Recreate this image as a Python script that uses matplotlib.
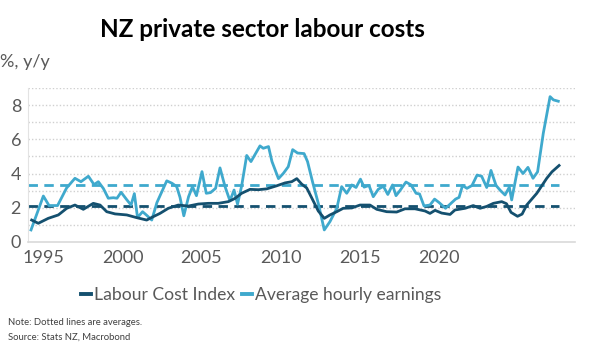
import matplotlib
matplotlib.use('Agg')
import matplotlib.pyplot as plt
from matplotlib.lines import Line2D

plt.rcParams['font.family'] = ['Lato', 'DejaVu Sans']

# Labour Cost Index, % y/y (dates as placed on the chart's year axis)
lci_dates = [1994.25, 1994.67, 1995.30, 1995.94, 1996.47, 1996.99, 1997.52, 1998.15, 1998.58, 1999.00,
             1999.53, 2000.27, 2000.90, 2001.53, 2001.95, 2002.37, 2002.90, 2003.53, 2004.16, 2004.80,
             2005.43, 2006.06, 2006.70, 2007.12, 2007.54, 2008.07, 2008.60, 2009.13, 2009.76, 2010.29,
             2010.71, 2011.03, 2011.34, 2011.66, 2011.97, 2012.39, 2012.77, 2013.13, 2013.56, 2013.97,
             2014.51, 2015.03, 2015.66, 2016.09, 2016.72, 2017.35, 2017.88, 2018.51, 2019.15, 2019.46,
             2019.78, 2020.20, 2020.73, 2021.04, 2021.68, 2022.20, 2022.63, 2023.05, 2023.47, 2024.00,
             2024.30, 2024.59, 2025.00, 2025.29, 2025.58, 2026.22, 2026.85, 2027.18, 2027.63]
lci = [1.27, 1.08, 1.37, 1.57, 1.96, 2.15, 1.90, 2.25, 2.15, 1.76,
       1.63, 1.57, 1.41, 1.27, 1.47, 1.66, 1.96, 2.15, 2.09, 2.21,
       2.25, 2.25, 2.35, 2.54, 2.84, 3.07, 3.05, 3.10, 3.28, 3.45,
       3.52, 3.70, 3.38, 3.15, 2.58, 1.80, 1.37, 1.57, 1.76, 1.96,
       1.98, 2.15, 2.15, 1.90, 1.76, 1.74, 1.93, 1.93, 1.80, 1.66,
       1.84, 1.68, 1.60, 1.86, 1.96, 2.12, 1.96, 2.07, 2.25, 2.35,
       2.23, 1.72, 1.49, 1.62, 2.15, 2.84, 3.72, 4.10, 4.47]

# Average hourly earnings, % y/y
ahe_dates = [1994.21, 1994.99, 1995.35, 1995.89, 1996.46, 1996.99, 1997.37, 1997.84, 1998.20, 1998.47,
             1998.79, 1999.10, 1999.42, 1999.65, 1999.91, 2000.28, 2000.54, 2000.75, 2000.95, 2001.27,
             2001.53, 2001.85, 2002.18, 2002.80, 2003.13, 2003.43, 2003.64, 2003.88, 2004.18, 2004.43,
             2004.68, 2005.03, 2005.30, 2005.57, 2005.89, 2006.17, 2006.49, 2006.80, 2007.06, 2007.28,
             2007.54, 2007.86, 2008.13, 2008.70, 2008.91, 2009.24, 2009.46, 2009.87, 2010.18, 2010.49,
             2010.77, 2011.08, 2011.49, 2011.71, 2012.03, 2012.39, 2012.77, 2013.13, 2013.56, 2013.87,
             2014.19, 2014.51, 2014.78, 2015.06, 2015.29, 2015.60, 2015.87, 2016.19, 2016.51, 2016.79,
             2017.09, 2017.31, 2017.56, 2017.94, 2018.26, 2018.58, 2018.80, 2019.08, 2019.46, 2019.75,
             2020.03, 2020.44, 2020.73, 2021.08, 2021.30, 2021.52, 2021.80, 2022.12, 2022.44, 2022.73,
             2023.05, 2023.32, 2023.64, 2023.92, 2024.21, 2024.48, 2024.63, 2025.03, 2025.35, 2025.66,
             2025.98, 2026.27, 2026.63, 2027.06, 2027.27, 2027.58]
ahe = [0.69, 2.68, 2.12, 2.12, 3.15, 3.72, 3.52, 3.84, 3.35, 3.52,
       3.12, 2.55, 2.58, 2.55, 2.90, 2.45, 2.15, 2.82, 1.42, 1.76,
       1.55, 1.27, 2.30, 3.57, 3.43, 3.23, 2.60, 1.52, 2.64, 3.23,
       2.70, 4.11, 2.84, 2.88, 3.13, 4.33, 3.23, 2.40, 3.03, 2.20,
       3.27, 5.06, 4.70, 5.62, 5.48, 5.58, 4.70, 3.70, 4.01, 4.40,
       5.40, 5.20, 5.17, 4.70, 3.50, 2.25, 0.69, 1.18, 1.95, 3.23,
       2.84, 3.33, 3.18, 3.67, 3.20, 3.30, 2.64, 3.08, 3.25, 2.77,
       3.33, 2.70, 3.00, 3.50, 3.33, 2.84, 2.80, 2.10, 2.15, 2.50,
       2.30, 1.96, 2.20, 2.50, 2.60, 3.30, 3.13, 3.30, 3.91, 3.84,
       3.18, 4.18, 3.30, 3.00, 2.74, 3.20, 2.45, 4.38, 4.00, 4.36,
       3.72, 4.10, 6.36, 8.51, 8.32, 8.24]

lci_avg = 2.1
ahe_avg = 3.3

year_ticks = [1995, 2000, 2005, 2010, 2015, 2020]
y_ticks = [0, 2, 4, 6, 8]

dark = '#14506f'
light = '#3fa9cd'
grey = '#595959'

fig = plt.figure(figsize=(6.0, 3.53), dpi=100)
ax = fig.add_axes([0.0467, 0.3153, 0.9117, 0.4346])

for v in range(1, 10):
	ax.axhline(v, color='#d0d0d0', lw=1.0, ls=(0, (1, 1.5)), zorder=0)

ax.plot(lci_dates, lci, color=dark, lw=2.0, solid_joinstyle='round', zorder=3)
ax.plot(ahe_dates, ahe, color=light, lw=2.0, solid_joinstyle='round', zorder=2)

x0 = min(lci_dates[0], ahe_dates[0]) - 0.2
x1 = max(lci_dates[-1], ahe_dates[-1])
ax.hlines(lci_avg, x0, x1, color=dark, lw=2.0, linestyles=(0, (3.4, 2.3)), zorder=1)
ax.hlines(ahe_avg, x0, x1, color=light, lw=2.0, linestyles=(0, (3.4, 2.3)), zorder=1)

ax.set_xlim(1994.02, 2028.64)
ax.set_ylim(0, 9)
ax.set_xticks(year_ticks)
ax.set_yticks(y_ticks)
ax.tick_params(length=0, labelsize=13, labelcolor=grey)
ax.tick_params(axis='x', pad=6)
ax.tick_params(axis='y', pad=5)

for s in ['top', 'right']:
	ax.spines[s].set_visible(False)
ax.spines['left'].set_color('#e3e3e3')
ax.spines['bottom'].set_color('#d9d9d9')
ax.spines['bottom'].set_linewidth(1.2)

fig.text(0.437, 0.917, 'NZ private sector labour costs', ha='center', va='center',
	fontsize=17.5, fontweight='bold', color='black')
fig.text(0.0, 0.825, '%, y/y', ha='left', va='center', fontsize=13, color=grey)

handles = [Line2D([], [], color=dark, lw=2.8), Line2D([], [], color=light, lw=2.8)]
fig.legend(handles, ['Labour Cost Index', 'Average hourly earnings'], loc='center',
	bbox_to_anchor=(0.435, 0.165), ncol=2, frameon=False, fontsize=12.6,
	handlelength=0.6, handletextpad=0.15, columnspacing=0.4, labelcolor=grey)

fig.text(0.013, 0.085, 'Note: Dotted lines are averages.', fontsize=6.8, color='#404040', va='center')
fig.text(0.013, 0.045, 'Source: Stats NZ, Macrobond', fontsize=6.8, color='#404040', va='center')

fig.savefig('out.png', dpi=100)
